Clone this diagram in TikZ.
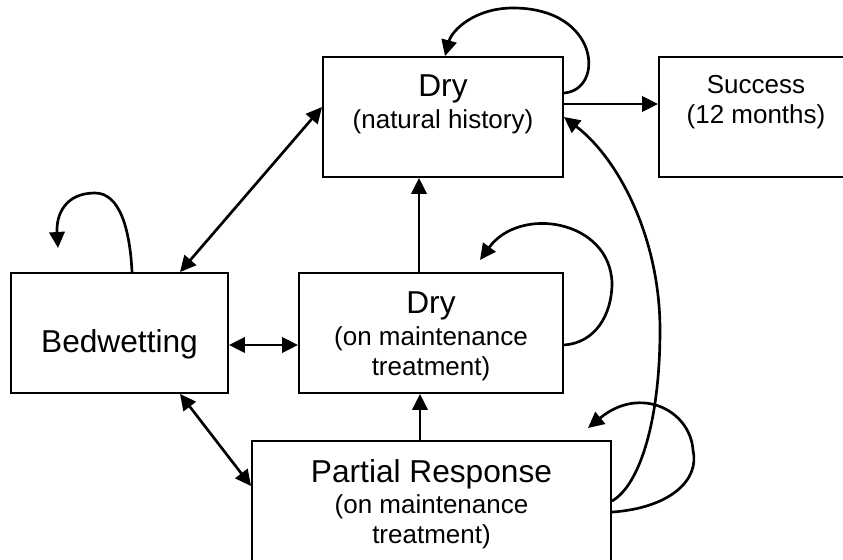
\documentclass[tikz,border=0pt]{standalone}
\usepackage{fontspec}
\setmainfont{Liberation Sans}
\usetikzlibrary{arrows.meta,calc}
\begin{document}
\begin{tikzpicture}[x=0.75pt,y=-0.75pt,
    >={Triangle[length=12pt,width=11.5pt]},
    box/.style={draw,line width=1.4pt,inner sep=0pt},
    big/.style={font=\fontsize{23.75}{27}\selectfont,anchor=base},
    small/.style={font=\fontsize{19.5}{22.5}\selectfont,anchor=base,align=center},
    link/.style={line width=2pt}]
    \clip (0,0) rectangle (843,560);

    % states
    \node[box,minimum width=180pt,minimum height=90pt] (drynh) at (443,117) {};
    \node[box,minimum width=145.5pt,minimum height=90pt] (succ) at (756,117) {};
    \node[box,minimum width=162.75pt,minimum height=90pt] (bed) at (119.5,333) {};
    \node[box,minimum width=198pt,minimum height=90pt] (drym) at (431,333) {};
    \node[box,minimum width=269.25pt,minimum height=120pt] (pr) at (431.5,521) {};

    \node[big] (drynh-a) at (443,97) {Dry};
    \node[small] (drynh-b) at (443,128) {(natural history)};
    \node[small] (succ-a) at (756,123) {Success\\(12 months)};
    \node[big] (bed-a) at (119.5,352) {Bedwetting};
    \node[big] (drym-a) at (431,313) {Dry};
    \node[small] (drym-b) at (431,375) {(on maintenance\\treatment)};
    \node[big] (pr-a) at (431.5,482) {Partial Response};
    \node[small] (pr-b) at (431.5,543) {(on maintenance\\treatment)};

    % free ends of the loops
    \coordinate (bed-in) at (58,248);
    \coordinate (drym-in) at (480,260);
    \coordinate (pr-in) at (588,428);

    % transitions
    \draw[link,->] ($(drynh.east)+(0,-13)$) -- ($(succ.west)+(0,-13)$);
    \draw[link,->] ($(drym.north)+(-12,0)$) -- ($(drynh.south)+(-24,0)$);
    \draw[link,->] ($(pr.north)+(-11.5,0)$) -- ($(drym.south)+(-11,0)$);
    \draw[link,<->] ($(bed.east)+(0,12)$) -- ($(drym.west)+(0,12)$);
    \draw[link,<->] ($(bed.north)+(60.5,0)$) -- ($(drynh.west)+(0,-10)$);
    \draw[link,<->] ($(bed.south)+(60.5,0)$) -- ($(pr.north west)+(0,46)$);

    % staying in the same state
    \draw[link,->] ($(drynh.east)+(0,-24)$)
        .. controls (605,90) and (600,8) .. (513,8)
        .. controls (475,8) and (452,30) .. ($(drynh.north)+(2,0)$);
    \draw[link,->] ($(bed.north)+(12.5,0)$)
        .. controls (130,230) and (120,193) .. (95,193)
        .. controls (65,193) and (56,215) .. (bed-in);
    \draw[link,->] ($(drym.east)+(0,12)$)
        .. controls (595,343) and (612,315) .. (612,283)
        .. controls (610,220) and (520,205) .. (drym-in);
    \draw[link,->] ($(pr.north east)+(0,72)$)
        .. controls (670,508) and (700,480) .. (693,450)
        .. controls (690,410) and (640,385) .. (pr-in);

    % back to dry
    \draw[link,->] ($(pr.north east)+(0,61)$)
        .. controls (640,485) and (660,420) .. (660,330)
        .. controls (660,240) and (620,160) .. (drynh.east);
\end{tikzpicture}
\end{document}
